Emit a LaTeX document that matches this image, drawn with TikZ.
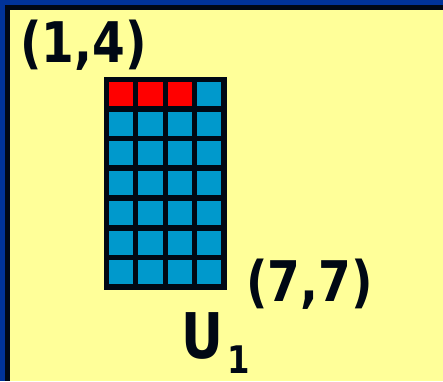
\documentclass[tikz,border=0pt]{standalone}
\usepackage{fontspec}
\setmainfont{DejaVu Sans}
\definecolor{frameblue}{HTML}{003399}
\definecolor{bgyellow}{HTML}{FFFF99}
\definecolor{cellblue}{HTML}{0099CC}
\definecolor{cellred}{HTML}{FF0000}
\definecolor{inkblack}{HTML}{000814}
\begin{document}
\begin{tikzpicture}[x=1pt,y=-1pt,
  lbl/.style={inner sep=0pt,anchor=base,text=inkblack,font=\bfseries\fontsize{56}{60}\selectfont},
  bigU/.style={inner sep=0pt,anchor=base,text=inkblack,font=\bfseries\fontsize{63}{66}\selectfont},
  subone/.style={inner sep=0pt,anchor=base,text=inkblack,font=\bfseries\fontsize{38}{40}\selectfont},
  bluecell/.style={fill=cellblue},
  redcell/.style={fill=cellred}]
\useasboundingbox (0,0) rectangle (443,381);
\fill[frameblue] (0,0) rectangle (443,381);
\fill[inkblack] (5,5) rectangle (443,381);
\fill[bgyellow] (10,10) rectangle (443,381);
% grid
\fill[inkblack] (104,77) rectangle (226.5,289.5);
\foreach \i in {0,...,3}{
  \foreach \j in {0,...,6}{
    \pgfmathsetmacro{\xx}{109+\i*29.4}
    \pgfmathsetmacro{\yy}{82+\j*29.7}
    \ifnum\j=0 \ifnum\i<3
      \fill[redcell] (\xx,\yy) rectangle ++(24.2,24);
    \else
      \fill[bluecell] (\xx,\yy) rectangle ++(24.2,24);
    \fi
    \else
      \fill[bluecell] (\xx,\yy) rectangle ++(24.2,24);
    \fi
  }
}
\node[lbl] (tl) at (83.5,62) {\scalebox{0.84}[1]{(1,4)}};
\node[lbl] (br) at (309.5,301) {\scalebox{0.84}[1]{(7,7)}};
\node[bigU] (u) at (202.5,358) {\scalebox{0.82}[1]{U}};
\node[subone] (s) at (238.5,373) {\scalebox{0.85}[1]{1}};
\end{tikzpicture}
\end{document}
